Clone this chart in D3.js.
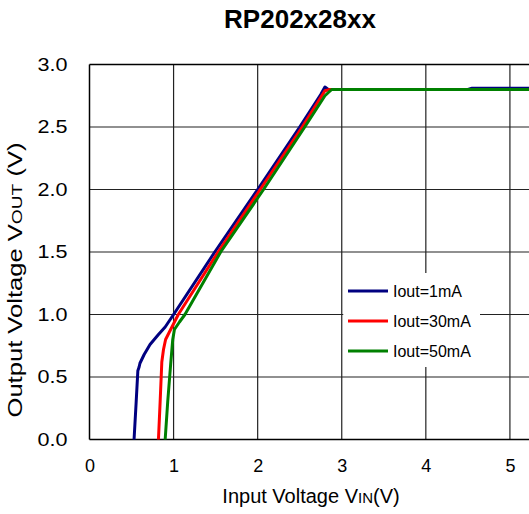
<!DOCTYPE html>
<html><head><meta charset="utf-8">
<script src="https://cdn.jsdelivr.net/npm/d3@7"></script>
<style>body{margin:0;background:#fff}svg{display:block}text{font-family:Arial,"Liberation Sans",sans-serif}</style>
</head><body>
<svg id="c" width="529" height="514"></svg>
<script>
const seriesNames = ["Iout=1mA","Iout=30mA","Iout=50mA"];
const seriesColors = ["#000080","#ff0000","#008000"];
const vin1 = [0.53,0.555,0.575,0.59,0.60,0.65,0.72,0.82,0.90,1.0,1.49,2.0,2.5,2.75,2.80,2.84,4.50,4.55,6.0];
const vout1 = [0.0,0.30,0.55,0.58,0.61,0.68,0.76,0.84,0.90,1.0,1.50,2.0,2.50,2.76,2.82,2.80,2.80,2.81,2.81];
const vin30 = [0.82,0.84,0.86,0.88,0.905,0.95,1.056,1.53,2.03,2.53,2.80,2.86,6.0];
const vout30 = [0.0,0.30,0.62,0.72,0.80,0.86,1.0,1.50,2.0,2.50,2.79,2.80,2.80];
const vin50 = [0.90,0.93,0.965,0.99,1.01,1.07,1.135,1.56,2.07,2.56,2.80,2.88,6.0];
const vout50 = [0.0,0.30,0.60,0.80,0.88,0.94,1.0,1.50,2.0,2.50,2.75,2.80,2.80];
const xTicks = [0,1,2,3,4,5,6];
const yTicks = [0,0.5,1,1.5,2,2.5,3];

const svg = d3.select("#c");
const x = d3.scaleLinear().domain([0,6]).range([89.5,594]);
const y = d3.scaleLinear().domain([0,3]).range([439.5,64.5]);

svg.append("text").attr("x",300).attr("y",28).attr("text-anchor","middle")
  .attr("font-size",26).attr("font-weight","bold").text("RP202x28xx");

// grid
svg.append("g").selectAll("line").data(xTicks.slice(1)).join("line")
  .attr("x1",d=>x(d)).attr("x2",d=>x(d)).attr("y1",y(3)).attr("y2",y(0))
  .attr("stroke","#222").attr("stroke-width",1.2);
svg.append("g").selectAll("line").data(yTicks.slice(1,-1)).join("line")
  .attr("x1",x(0)).attr("x2",x(6)).attr("y1",d=>y(d)).attr("y2",d=>y(d))
  .attr("stroke","#222").attr("stroke-width",1.2);

// axes
const xAxis = d3.axisBottom(x).tickValues(xTicks.slice(0,6)).tickSize(0).tickPadding(20).tickFormat(d3.format("d"));
const gx = svg.append("g").attr("transform",`translate(0,${y(0)})`).call(xAxis);
gx.select(".domain").remove();
gx.selectAll("text").attr("font-size",18).attr("fill","#000").attr("font-family","Arial, Liberation Sans, sans-serif");
const yAxis = d3.axisLeft(y).tickValues(yTicks).tickSize(0).tickPadding(22).tickFormat(d3.format(".1f"));
const gy = svg.append("g").attr("transform",`translate(${x(0)},0)`).call(yAxis);
gy.select(".domain").remove();
gy.selectAll("text").attr("font-size",18).attr("fill","#000").attr("font-family","Arial, Liberation Sans, sans-serif")
  .attr("textLength",30).attr("lengthAdjust","spacingAndGlyphs");

// border
svg.append("line").attr("x1",x(0)).attr("x2",x(6)).attr("y1",y(3)).attr("y2",y(3)).attr("stroke","#000").attr("stroke-width",1.5);
svg.append("line").attr("x1",x(0)).attr("x2",x(6)).attr("y1",y(0)).attr("y2",y(0)).attr("stroke","#000").attr("stroke-width",1.5);
svg.append("line").attr("x1",x(0)).attr("x2",x(0)).attr("y1",y(3)).attr("y2",y(0)).attr("stroke","#000").attr("stroke-width",1.5);

// legend background
const lg = svg.append("g");
lg.append("rect").attr("x",x(3)+1.5).attr("y",273).attr("width",480-x(3)-1.5).attr("height",94).attr("fill","#fff");

// series
const line = d3.line().x(d=>x(d[0])).y(d=>y(d[1]));
const data = [d3.zip(vin1,vout1), d3.zip(vin30,vout30), d3.zip(vin50,vout50)];
data.forEach((d,i)=>{
  svg.append("path").datum(d).attr("d",line).attr("fill","none")
    .attr("stroke",seriesColors[i]).attr("stroke-width",3).attr("stroke-linejoin","round");
});

// legend entries
const ly = [291,321,351];
seriesNames.forEach((n,i)=>{
  lg.append("line").attr("x1",348).attr("x2",388).attr("y1",ly[i]).attr("y2",ly[i])
    .attr("stroke",seriesColors[i]).attr("stroke-width",3);
  lg.append("text").attr("x",393).attr("y",ly[i]+5.5).attr("font-size",16).text(n);
});

// axis titles
const xt = svg.append("text").attr("x",311).attr("y",503).attr("text-anchor","middle").attr("font-size",20);
xt.append("tspan").text("Input Voltage V");
xt.append("tspan").attr("font-size",15).text("IN");
xt.append("tspan").text("(V)");
const yt = svg.append("text").attr("transform","translate(22,280) rotate(-90)").attr("text-anchor","middle").attr("font-size",20)
  .attr("textLength",275).attr("lengthAdjust","spacingAndGlyphs");
yt.append("tspan").text("Output Voltage V");
yt.append("tspan").attr("font-size",15).text("OUT");
yt.append("tspan").text(" (V)");
</script>
</body></html>
